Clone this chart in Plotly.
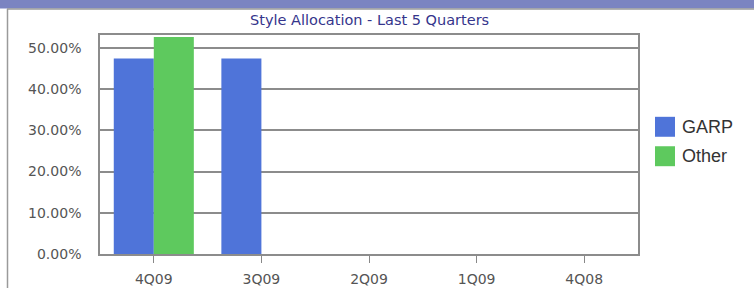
import plotly.graph_objects as go

categories = ["4Q09", "3Q09", "2Q09", "1Q09", "4Q08"]
garp = [47.4, 47.4, 0, 0, 0]
other = [52.6, 0, 0, 0, 0]
series_names = ["GARP", "Other"]
series_colors = ["#4f74d9", "#5ec95e"]
y_ticks = [0, 10, 20, 30, 40, 50]
y_ticklabels = ["0.00%", "10.00%", "20.00%", "30.00%", "40.00%", "50.00%"]
title_text = "Style Allocation - Last 5 Quarters"

W, H = 754, 288
L, R, T, B = 100, 638, 34.5, 254  # plot area px

def px_x(x):
    return (x - L) / (R - L)

def px_y(y):
    return (B - y) / (B - T)

fig = go.Figure()
for name, vals, col in zip(series_names, [garp, other], series_colors):
    fig.add_trace(go.Bar(x=categories, y=vals, name=name, marker=dict(color=col, line=dict(width=0)),
                         showlegend=False))

shapes = [
    # header band
    dict(type="rect", xref="paper", yref="paper", x0=px_x(-5), x1=px_x(W + 5), y0=px_y(8), y1=px_y(-5),
         fillcolor="#7b84c1", line=dict(width=0), layer="below"),
    dict(type="line", xref="paper", yref="paper", x0=px_x(7), x1=px_x(W + 5), y0=px_y(8.5), y1=px_y(8.5),
         line=dict(color="#9a9a9a", width=1.5)),
    dict(type="line", xref="paper", yref="paper", x0=px_x(7.5), x1=px_x(7.5), y0=px_y(8.5), y1=px_y(H + 5),
         line=dict(color="#9a9a9a", width=1.5)),
]
annotations = [
    dict(text=title_text, xref="paper", yref="paper", x=0.5, y=px_y(19.5), showarrow=False,
         font=dict(family="DejaVu Sans", size=14.5, color="#35358c"), xanchor="center", yanchor="middle"),
]
# manual legend
for i, (name, col) in enumerate(zip(series_names, series_colors)):
    cy = 126.5 + i * 29.5
    shapes.append(dict(type="rect", xref="paper", yref="paper", x0=px_x(655), x1=px_x(675),
                       y0=px_y(cy + 10), y1=px_y(cy - 10), fillcolor=col, line=dict(width=0)))
    annotations.append(dict(text=name, xref="paper", yref="paper", x=px_x(680), y=px_y(cy), showarrow=False,
                            xanchor="left", yanchor="middle",
                            font=dict(family="Liberation Sans, Arial", size=18, color="#333333")))

fig.update_layout(
    width=W, height=H,
    margin=dict(l=L, r=W - R, t=T, b=H - B, pad=0),
    paper_bgcolor="white", plot_bgcolor="white",
    barmode="group", bargap=0.256, bargroupgap=0,
    shapes=shapes, annotations=annotations,
    xaxis=dict(showgrid=False, ticks="outside", ticklen=7, tickcolor="#888888", tickwidth=1,
               showline=True, linecolor="#8c8c8c", linewidth=1.5, mirror=True, ticklabelstandoff=4,
               automargin=False,
               tickfont=dict(family="DejaVu Sans", size=14, color="#555555")),
    yaxis=dict(range=[0, 53.1], tickvals=y_ticks, ticktext=y_ticklabels, ticks="",
               showgrid=True, gridcolor="#8c8c8c", gridwidth=1.5, zeroline=False,
               showline=True, linecolor="#8c8c8c", linewidth=1.5, mirror=True, ticklabelstandoff=14,
               automargin=False,
               tickfont=dict(family="DejaVu Sans", size=14, color="#555555")),
)
fig.write_html("out.html", config={"displayModeBar": False},
               post_script="document.body.style.margin='0';document.body.style.overflow='hidden';")
